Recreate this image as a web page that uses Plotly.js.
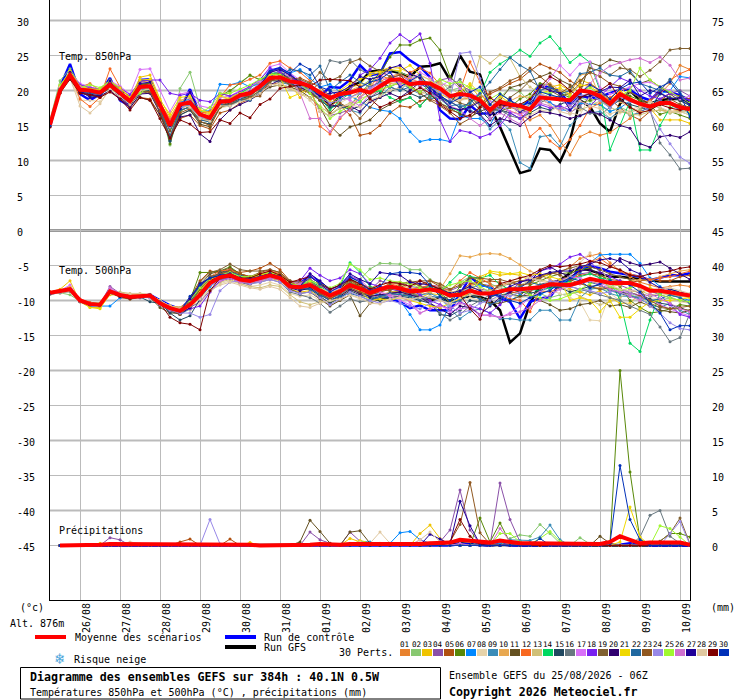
<!DOCTYPE html>
<html><head><meta charset="utf-8">
<script src="https://cdn.plot.ly/plotly-3.0.1.min.js"></script>
<style>html,body{margin:0;padding:0;background:#fff}</style></head>
<body><div id="chart" style="width:740px;height:700px"></div>
<script>
// All temperature / precipitation values are in tenths (of degC / mm).
const dayLabels=["26/08","27/08","28/08","29/08","30/08","31/08","01/09","02/09","03/09","04/09","05/09","06/09","07/09","08/09","09/09","10/09"];
const memberColors=["#e8822e","#88c870","#f0c400","#8a50a8","#b05010","#588808","#0088ff","#e6d3aa","#3a8cb8","#e8a850","#645020","#f86820","#d0c078","#00d860","#204860","#687880","#d870f8","#7820f0","#806030","#300070","#f0d800","#2068a0","#905820","#9888e8","#a0f830","#d070d0","#200098","#e0c8a0","#800000","#0030b8"];

const t850_mean=[151,200,222,201,200,197,208,197,185,205,206,179,150,180,183,166,161,184,185,193,196,206,218,219,213,211,206,197,189,195,197,201,197,206,215,216,209,211,210,203,192,195,193,186,172,184,180,178,173,190,189,188,186,200,198,192,181,195,187,181,177,182,182,176,173];
const t850_gfs=[151,200,221,203,200,196,212,197,186,208,209,178,145,178,182,165,160,184,186,193,197,207,222,226,214,210,208,194,178,192,205,212,227,229,228,225,219,234,235,239,215,250,227,223,177,148,115,82,86,117,115,98,129,186,177,153,141,181,200,186,181,186,188,188,184];
const t850_ctrl=[148,205,238,195,186,195,218,186,178,215,216,180,148,172,202,165,160,182,186,192,198,208,228,232,222,210,205,192,205,204,215,236,222,224,253,255,243,234,219,172,160,159,179,167,167,180,179,177,186,208,204,199,179,193,189,191,196,201,201,191,186,200,198,193,186];
const t850_01=[152,203,226,205,210,200,212,203,190,212,214,185,152,178,180,163,158,182,186,196,205,212,222,224,214,209,200,188,178,186,190,198,205,212,220,224,216,212,205,200,190,186,190,180,168,175,170,166,158,165,150,128,108,134,141,136,140,150,160,172,185,195,210,236,230];
const t850_02=[158,214,231,208,203,199,205,192,180,199,201,176,122,203,226,176,168,192,197,212,221,216,222,228,220,214,205,195,182,190,198,205,215,222,230,226,220,218,210,214,200,204,196,190,175,190,204,198,184,188,196,200,192,190,185,178,170,176,170,172,180,175,168,170,165];
const t850_03=[153,205,228,204,203,200,210,200,187,219,222,188,162,185,186,170,165,196,192,195,200,208,215,213,209,190,203,194,179,196,205,208,225,228,233,232,225,218,208,195,188,196,206,190,175,188,176,174,168,200,205,208,200,215,210,200,186,205,190,182,175,158,158,158,153];
const t850_04=[150,198,220,199,196,194,204,193,181,201,203,175,148,177,180,163,160,180,182,190,192,204,226,232,222,212,200,170,164,168,172,178,190,200,218,222,214,208,204,215,218,208,200,182,160,155,178,168,172,186,182,176,168,178,190,196,186,188,176,170,176,188,196,200,192];
const t850_05=[149,197,218,197,193,190,200,190,176,190,188,165,135,160,165,150,145,168,172,182,188,200,208,212,215,218,212,205,192,178,165,136,139,150,168,178,176,185,188,182,172,168,186,190,195,202,210,216,228,238,232,226,214,205,210,200,188,175,165,158,170,185,196,192,188];
const t850_06=[150,200,225,203,198,202,215,200,192,208,210,182,124,170,178,155,152,192,200,210,222,215,222,224,216,205,198,188,165,175,178,196,210,225,248,265,265,272,275,258,220,205,190,195,180,170,176,188,195,210,208,196,190,182,186,188,175,196,192,186,178,166,170,165,160];
const t850_07=[152,202,224,200,192,192,206,198,184,204,207,180,155,183,188,170,171,209,208,212,205,210,220,228,225,230,218,205,209,198,192,185,176,172,170,160,141,127,130,130,127,165,160,160,150,178,186,170,180,192,183,172,172,182,180,180,170,175,185,180,175,195,200,220,218];
const t850_08=[150,208,218,186,186,184,200,190,182,200,197,172,152,178,172,156,150,175,178,186,190,198,214,214,208,204,200,172,174,182,190,190,200,208,212,208,214,196,196,190,182,186,188,180,178,187,184,160,165,172,170,178,168,165,192,176,160,168,172,178,182,184,176,170,165];
const t850_09=[151,201,222,198,198,198,207,195,186,203,205,172,128,175,180,160,155,180,180,188,190,200,215,212,208,205,198,186,176,178,172,168,185,190,205,212,202,195,188,190,178,180,172,165,145,158,144,97,89,134,136,120,150,164,168,170,160,172,165,168,178,186,180,172,168];
const t850_10=[152,204,226,204,205,200,209,198,183,204,204,182,160,186,190,172,166,186,190,196,200,208,222,226,212,212,208,200,190,196,200,206,212,214,210,208,216,222,205,212,192,188,190,178,172,178,185,192,190,205,210,200,195,222,225,190,188,184,176,170,170,172,170,172,178];
const t850_11=[149,199,219,200,197,196,206,196,180,190,186,165,130,165,172,152,148,176,180,186,188,196,205,208,205,200,190,176,150,136,148,152,158,172,180,186,190,178,194,182,175,166,162,170,176,186,204,208,214,220,225,215,208,196,240,235,244,240,225,210,215,205,195,185,180];
const t850_12=[153,206,225,188,177,190,231,205,188,207,208,184,158,180,186,168,170,190,208,210,216,222,239,242,232,226,214,149,138,160,175,190,205,222,216,212,226,232,225,208,190,200,241,212,190,178,176,172,134,146,128,117,130,150,175,182,190,200,188,180,186,200,215,224,230];
const t850_13=[151,202,222,206,203,198,207,198,186,204,204,175,145,176,178,160,155,180,182,188,192,200,210,206,202,196,190,178,166,176,182,188,194,200,206,212,204,196,200,210,206,192,198,249,239,251,246,220,205,196,190,186,178,172,178,185,176,170,166,165,170,172,168,170,172];
const t850_14=[150,201,223,202,200,199,209,199,187,205,206,178,146,178,184,165,162,185,188,196,204,214,226,222,210,206,202,190,172,186,196,203,196,200,190,184,190,178,192,188,176,170,182,195,226,238,247,258,249,268,277,260,240,251,240,200,115,150,185,115,115,150,175,180,165];
const t850_15=[150,199,221,197,192,194,204,193,180,198,200,170,128,165,172,155,152,178,182,188,192,204,216,218,210,204,198,186,176,180,172,178,190,196,198,205,196,190,196,190,182,200,188,172,158,172,168,160,168,176,172,180,186,190,195,188,178,186,180,176,172,196,190,186,178];
const t850_16=[151,203,224,201,198,196,207,197,185,204,205,178,150,178,178,160,158,182,184,190,194,202,214,214,210,208,200,210,243,240,244,230,222,210,205,200,214,206,190,196,205,216,190,180,170,172,164,160,170,182,190,192,184,176,168,165,176,190,198,190,172,125,108,88,89];
const t850_17=[152,205,226,210,205,202,214,206,195,230,231,200,170,195,198,178,175,190,192,200,205,214,234,238,225,215,208,196,186,192,186,178,195,220,228,206,214,226,218,205,215,203,190,195,185,178,170,165,172,196,217,236,222,238,241,204,195,200,205,210,212,205,200,188,192];
const t850_18=[152,204,225,208,204,202,212,204,194,213,215,215,196,193,196,186,184,196,192,198,206,216,232,226,218,212,205,196,188,194,200,222,230,246,268,280,270,281,239,158,127,143,140,133,138,150,168,160,172,180,175,178,172,185,178,192,205,218,212,200,192,188,196,190,186];
const t850_19=[149,198,218,199,196,195,203,194,180,196,198,172,142,172,176,158,156,178,180,186,190,200,212,222,218,216,210,226,214,220,240,245,235,228,220,212,205,198,206,200,190,182,178,186,170,176,190,200,214,205,200,192,196,210,232,228,222,232,230,220,229,241,258,260,260];
const t850_20=[150,200,220,198,195,192,200,188,175,195,196,168,135,162,165,138,127,158,172,180,186,196,208,215,212,205,198,192,180,176,178,170,184,190,196,190,200,212,204,192,184,176,170,166,150,160,156,150,162,170,168,165,160,164,170,166,158,150,146,124,119,134,136,133,141];
const t850_21=[152,206,228,206,202,202,213,204,190,215,216,186,166,190,192,172,168,192,188,196,198,210,224,218,190,196,204,198,185,200,210,216,222,226,230,228,236,222,215,200,192,198,210,196,180,192,182,178,170,196,200,204,194,208,206,196,184,200,188,178,176,180,180,178,170];
const t850_22=[150,200,222,199,196,195,206,194,182,201,202,174,135,172,176,158,155,180,178,186,186,198,214,220,230,228,222,235,200,212,222,212,205,212,205,200,205,212,198,190,184,176,182,196,212,230,247,236,228,200,205,195,200,224,226,232,222,220,228,210,205,200,216,198,176];
const t850_23=[151,201,221,200,200,198,206,198,183,200,198,170,132,168,174,156,150,176,186,194,190,192,214,216,208,202,196,186,168,182,174,160,176,192,218,222,208,196,186,178,168,152,160,176,198,204,214,220,232,220,208,196,205,214,226,220,210,206,198,190,178,182,188,180,176];
const t850_24=[151,200,220,202,198,196,208,198,184,202,204,176,148,176,178,162,160,182,184,190,196,205,218,218,212,206,200,190,182,186,190,196,204,210,216,212,208,214,204,198,188,253,255,217,180,172,178,170,182,194,190,186,178,192,196,186,175,190,184,180,170,145,124,105,96];
const t850_25=[154,208,226,204,208,204,214,200,186,196,206,180,152,180,184,168,176,196,196,202,208,216,224,222,215,210,196,176,160,170,178,184,196,202,206,212,205,198,208,216,210,212,204,200,188,196,186,176,190,198,196,186,190,200,204,194,180,192,200,232,215,205,198,190,182];
const t850_26=[150,202,224,205,200,198,210,200,186,206,208,180,156,182,186,168,162,186,186,194,200,210,226,230,220,196,160,160,141,162,172,190,200,218,214,210,220,206,196,188,178,172,160,150,160,168,160,152,176,182,178,172,180,196,210,225,235,240,244,246,240,248,236,215,218];
const t850_27=[151,202,226,200,190,192,214,190,180,210,212,182,150,174,198,166,160,182,186,194,198,208,226,230,222,212,204,192,196,198,206,220,216,220,232,236,224,218,200,190,176,172,176,184,165,170,188,170,175,206,200,196,172,190,192,198,205,204,215,192,200,196,188,190,180];
const t850_28=[150,205,218,178,168,181,203,192,180,200,202,176,154,180,176,160,156,178,178,184,188,196,208,210,204,196,186,170,164,176,180,176,186,192,200,204,210,222,215,206,196,188,192,186,176,184,180,172,178,188,180,170,166,185,178,174,166,172,168,176,184,176,170,168,172];
const t850_29=[148,196,216,196,194,190,198,188,172,190,186,160,132,158,152,140,141,158,153,168,161,180,188,203,206,208,206,215,216,215,214,205,188,176,182,190,196,204,196,180,170,160,165,176,190,180,178,180,188,205,220,212,200,190,196,200,210,188,176,168,172,180,175,172,175];
const t850_30=[150,200,222,201,198,197,207,198,185,205,206,180,152,180,184,167,162,186,186,194,198,206,228,232,225,238,230,205,200,190,196,204,212,216,226,205,214,222,204,194,182,190,198,205,180,195,186,178,182,198,194,190,182,196,208,200,188,202,210,212,196,205,212,195,162];

const t500_mean=[-89,-87,-84,-100,-105,-106,-87,-92,-95,-94,-93,-104,-111,-115,-106,-92,-75,-67,-64,-70,-72,-68,-64,-68,-80,-81,-78,-86,-93,-87,-78,-83,-89,-84,-80,-83,-87,-86,-84,-87,-93,-92,-86,-90,-90,-87,-84,-84,-83,-81,-77,-78,-78,-74,-69,-72,-75,-75,-75,-79,-86,-86,-88,-90,-93];
const t500_gfs=[-89,-88,-85,-100,-105,-106,-88,-92,-94,-94,-92,-103,-110,-114,-100,-80,-70,-66,-63,-70,-70,-68,-62,-66,-78,-80,-74,-84,-92,-86,-70,-78,-92,-100,-90,-86,-90,-94,-100,-96,-102,-96,-94,-95,-100,-114,-160,-147,-104,-78,-76,-71,-61,-54,-57,-61,-66,-66,-68,-70,-72,-73,-73,-73,-73];
const t500_ctrl=[-90,-88,-86,-100,-107,-106,-88,-93,-95,-94,-92,-100,-107,-112,-100,-80,-72,-66,-66,-72,-74,-68,-64,-70,-76,-76,-64,-74,-86,-80,-66,-72,-95,-92,-97,-102,-111,-107,-114,-114,-114,-92,-66,-78,-80,-97,-102,-126,-102,-97,-95,-76,-71,-54,-51,-54,-59,-61,-64,-66,-71,-68,-64,-64,-61];
const t500_01=[-89,-86,-83,-99,-104,-105,-85,-91,-94,-93,-91,-102,-110,-112,-104,-84,-68,-60,-62,-68,-70,-66,-60,-66,-78,-84,-82,-90,-96,-92,-84,-88,-92,-88,-82,-84,-90,-92,-88,-86,-92,-90,-78,-76,-80,-78,-74,-72,-70,-66,-62,-60,-52,-40,-36,-33,-46,-58,-66,-74,-78,-82,-80,-78,-80];
const t500_02=[-91,-89,-92,-101,-103,-104,-90,-90,-92,-94,-95,-105,-113,-116,-108,-94,-76,-70,-66,-72,-74,-72,-68,-70,-82,-84,-82,-88,-95,-88,-74,-70,-55,-47,-47,-48,-56,-56,-70,-78,-84,-74,-66,-70,-76,-82,-84,-86,-88,-90,-96,-92,-90,-88,-82,-84,-86,-88,-92,-96,-104,-100,-96,-92,-96];
const t500_03=[-88,-84,-72,-102,-110,-110,-92,-92,-94,-92,-92,-104,-112,-118,-112,-96,-78,-70,-66,-72,-76,-72,-68,-72,-84,-88,-86,-96,-104,-94,-84,-90,-92,-94,-88,-86,-92,-96,-90,-92,-102,-98,-84,-66,-60,-64,-62,-64,-72,-78,-80,-76,-84,-88,-92,-86,-96,-104,-104,-90,-82,-88,-92,-94,-92];
const t500_04=[-90,-88,-86,-99,-104,-105,-80,-90,-94,-93,-92,-104,-110,-112,-110,-102,-86,-72,-68,-74,-78,-70,-68,-70,-84,-82,-76,-88,-98,-90,-76,-82,-85,-72,-76,-74,-80,-82,-78,-80,-86,-80,-72,-84,-86,-82,-90,-96,-86,-82,-74,-70,-66,-62,-60,-68,-74,-78,-84,-90,-94,-92,-96,-100,-104];
const t500_05=[-89,-86,-84,-101,-106,-107,-88,-96,-98,-96,-95,-106,-112,-116,-96,-72,-58,-60,-56,-60,-58,-54,-47,-56,-72,-80,-78,-90,-98,-88,-76,-80,-86,-88,-74,-74,-76,-78,-72,-80,-92,-88,-76,-74,-72,-74,-88,-90,-86,-82,-78,-72,-70,-64,-62,-64,-70,-72,-74,-72,-70,-72,-72,-66,-64];
const t500_06=[-90,-87,-85,-100,-106,-106,-86,-92,-95,-94,-94,-106,-114,-118,-100,-60,-60,-58,-52,-62,-66,-64,-60,-64,-74,-78,-74,-84,-90,-84,-74,-80,-88,-86,-80,-82,-84,-90,-76,-90,-100,-80,-66,-74,-84,-92,-90,-94,-78,-72,-66,-62,-60,-56,-54,-64,-72,-80,-100,-110,-118,-116,-112,-106,-108];
const t500_07=[-89,-87,-84,-102,-108,-108,-108,-96,-96,-95,-93,-103,-110,-112,-108,-96,-80,-70,-66,-70,-72,-70,-66,-70,-76,-78,-74,-84,-92,-86,-76,-84,-88,-92,-96,-100,-120,-142,-142,-135,-106,-90,-82,-78,-82,-94,-100,-92,-96,-92,-84,-78,-68,-60,-46,-35,-34,-34,-34,-47,-68,-80,-92,-96,-100];
const t500_08=[-91,-90,-88,-100,-104,-105,-90,-91,-93,-92,-93,-102,-108,-112,-114,-104,-88,-76,-72,-76,-80,-78,-74,-78,-90,-94,-92,-100,-106,-100,-92,-98,-100,-96,-92,-92,-96,-98,-96,-100,-106,-102,-96,-100,-98,-96,-92,-96,-94,-88,-86,-90,-96,-102,-128,-129,-90,-100,-106,-104,-96,-98,-100,-102,-104];
const t500_09=[-89,-88,-85,-100,-105,-106,-88,-92,-94,-95,-95,-106,-116,-120,-112,-88,-70,-64,-60,-66,-70,-68,-62,-66,-80,-84,-80,-90,-100,-92,-82,-88,-94,-98,-92,-90,-94,-92,-90,-96,-112,-126,-116,-112,-118,-126,-126,-128,-128,-114,-114,-128,-128,-96,-84,-82,-90,-94,-94,-98,-106,-110,-104,-114,-120];
const t500_10=[-88,-86,-80,-99,-104,-106,-87,-92,-93,-92,-92,-100,-108,-110,-102,-88,-72,-64,-62,-68,-68,-64,-58,-62,-74,-76,-72,-82,-90,-84,-72,-76,-82,-78,-74,-78,-82,-84,-88,-84,-62,-36,-38,-34,-33,-34,-40,-49,-58,-64,-70,-76,-74,-76,-80,-82,-80,-78,-72,-70,-72,-66,-62,-58,-56];
const t500_11=[-90,-88,-86,-102,-106,-108,-90,-94,-98,-95,-96,-110,-118,-118,-102,-78,-62,-58,-54,-62,-68,-68,-64,-70,-84,-90,-88,-98,-108,-100,-92,-122,-104,-98,-96,-94,-90,-94,-98,-98,-94,-88,-92,-96,-104,-104,-100,-94,-92,-100,-106,-114,-112,-106,-104,-100,-108,-106,-110,-102,-108,-114,-116,-118,-114];
const t500_12=[-88,-85,-82,-98,-103,-105,-88,-90,-92,-92,-92,-102,-108,-110,-100,-82,-66,-58,-56,-62,-66,-62,-58,-62,-74,-78,-74,-80,-86,-80,-72,-78,-84,-82,-76,-80,-84,-82,-78,-82,-86,-72,-60,-68,-76,-92,-98,-100,-116,-86,-88,-82,-76,-58,-44,-40,-50,-58,-62,-66,-70,-68,-66,-62,-58];
const t500_13=[-90,-89,-86,-100,-104,-105,-88,-88,-90,-90,-92,-100,-108,-110,-106,-96,-84,-74,-70,-76,-80,-82,-78,-80,-92,-102,-106,-102,-100,-96,-88,-94,-96,-92,-88,-88,-92,-90,-84,-82,-88,-86,-82,-84,-92,-86,-82,-78,-72,-70,-74,-80,-86,-94,-100,-106,-102,-96,-88,-86,-92,-90,-92,-94,-96];
const t500_14=[-89,-87,-85,-100,-105,-105,-87,-92,-95,-94,-93,-104,-112,-114,-104,-84,-72,-66,-62,-66,-70,-66,-60,-64,-78,-78,-72,-80,-88,-80,-46,-60,-80,-84,-78,-84,-86,-84,-80,-88,-74,-60,-66,-68,-64,-78,-84,-88,-84,-86,-82,-78,-72,-66,-62,-68,-70,-100,-161,-173,-128,-90,-84,-88,-94];
const t500_15=[-90,-88,-86,-101,-106,-106,-88,-92,-96,-95,-102,-104,-118,-128,-122,-98,-70,-60,-58,-64,-68,-64,-62,-66,-78,-84,-84,-94,-104,-96,-86,-92,-96,-100,-96,-94,-96,-100,-104,-120,-122,-114,-100,-102,-96,-90,-84,-88,-90,-86,-80,-82,-88,-84,-80,-78,-84,-88,-90,-92,-98,-104,-106,-110,-116];
const t500_16=[-91,-89,-87,-100,-104,-105,-90,-92,-94,-93,-94,-104,-110,-114,-108,-94,-78,-70,-68,-74,-76,-74,-70,-74,-88,-92,-96,-104,-117,-108,-98,-102,-100,-96,-92,-88,-90,-94,-102,-118,-128,-120,-108,-100,-92,-88,-84,-86,-82,-78,-74,-76,-80,-84,-88,-92,-96,-100,-108,-114,-120,-138,-159,-153,-118];
const t500_17=[-88,-86,-78,-99,-104,-106,-84,-90,-94,-93,-92,-102,-110,-112,-102,-90,-76,-68,-66,-72,-72,-70,-66,-70,-80,-72,-62,-78,-88,-82,-64,-74,-84,-88,-94,-100,-106,-118,-112,-106,-116,-112,-110,-122,-120,-124,-118,-108,-96,-88,-78,-72,-66,-68,-74,-76,-80,-86,-90,-92,-100,-106,-112,-118,-122];
const t500_18=[-89,-87,-85,-100,-105,-106,-86,-92,-95,-94,-93,-104,-110,-116,-112,-108,-88,-72,-68,-72,-74,-70,-66,-66,-74,-72,-54,-64,-72,-68,-56,-62,-76,-80,-84,-86,-84,-92,-100,-106,-112,-102,-108,-112,-118,-106,-88,-74,-68,-58,-54,-48,-38,-34,-44,-60,-66,-72,-78,-80,-86,-92,-106,-120,-124];
const t500_19=[-90,-88,-85,-101,-106,-107,-90,-93,-96,-95,-94,-106,-114,-118,-100,-74,-60,-56,-48,-56,-58,-58,-56,-60,-72,-74,-70,-78,-86,-80,-72,-76,-82,-84,-86,-78,-72,-80,-84,-82,-90,-96,-92,-90,-86,-80,-76,-72,-72,-68,-62,-58,-54,-50,-52,-56,-62,-66,-70,-84,-104,-110,-112,-112,-114];
const t500_20=[-89,-87,-86,-100,-106,-106,-88,-94,-96,-95,-94,-106,-114,-120,-110,-90,-72,-64,-62,-68,-72,-68,-64,-68,-82,-86,-82,-92,-100,-94,-84,-90,-94,-92,-90,-88,-92,-96,-104,-112,-120,-108,-110,-120,-108,-96,-88,-82,-72,-58,-52,-60,-66,-58,-56,-62,-52,-40,-46,-50,-48,-45,-54,-62,-70];
const t500_21=[-88,-85,-82,-100,-110,-112,-90,-92,-94,-92,-92,-102,-108,-112,-104,-86,-70,-64,-60,-66,-68,-64,-60,-64,-76,-80,-76,-86,-92,-88,-80,-86,-100,-98,-100,-96,-100,-104,-108,-110,-104,-98,-88,-72,-58,-60,-62,-60,-64,-62,-66,-70,-100,-96,-100,-116,-100,-124,-124,-112,-102,-100,-100,-98,-96];
const t500_22=[-90,-88,-86,-100,-105,-106,-88,-92,-94,-94,-94,-106,-112,-116,-104,-78,-66,-62,-60,-64,-68,-66,-62,-66,-76,-82,-84,-92,-100,-94,-90,-94,-100,-94,-90,-92,-94,-98,-94,-96,-104,-100,-92,-98,-106,-100,-84,-80,-74,-78,-74,-80,-80,-72,-74,-78,-86,-90,-94,-96,-100,-98,-92,-96,-104];
const t500_23=[-89,-87,-85,-100,-104,-106,-88,-93,-96,-95,-94,-106,-114,-120,-106,-84,-66,-62,-58,-62,-66,-60,-56,-60,-74,-80,-78,-90,-98,-90,-82,-88,-92,-88,-84,-82,-74,-72,-72,-76,-84,-78,-68,-68,-70,-70,-74,-78,-76,-66,-60,-64,-70,-76,-80,-84,-82,-84,-88,-94,-100,-108,-112,-110,-108];
const t500_24=[-90,-88,-86,-101,-105,-106,-89,-93,-96,-96,-96,-106,-114,-118,-118,-124,-120,-86,-74,-72,-76,-74,-70,-74,-86,-90,-88,-96,-106,-98,-88,-94,-100,-104,-100,-104,-108,-112,-104,-98,-108,-118,-114,-104,-100,-92,-94,-88,-84,-80,-72,-74,-80,-84,-86,-90,-88,-84,-88,-96,-108,-118,-132,-140,-142];
const t500_25=[-89,-88,-86,-100,-104,-104,-87,-91,-94,-92,-92,-100,-110,-112,-100,-82,-68,-64,-60,-66,-66,-62,-60,-64,-76,-78,-72,-76,-82,-76,-48,-56,-70,-68,-72,-74,-76,-82,-86,-84,-78,-74,-72,-80,-88,-88,-82,-84,-92,-96,-100,-98,-92,-84,-76,-72,-80,-86,-82,-78,-84,-92,-96,-100,-102];
const t500_26=[-89,-87,-84,-99,-104,-106,-82,-90,-94,-94,-93,-102,-110,-112,-106,-94,-78,-72,-68,-74,-74,-72,-68,-70,-82,-76,-66,-76,-86,-80,-66,-70,-84,-88,-92,-94,-102,-118,-112,-108,-112,-104,-108,-120,-122,-124,-120,-116,-110,-100,-92,-84,-80,-76,-72,-78,-84,-88,-94,-100,-90,-98,-104,-112,-116];
const t500_27=[-90,-88,-84,-100,-106,-106,-87,-92,-94,-94,-92,-102,-110,-114,-98,-76,-68,-64,-62,-68,-70,-66,-62,-66,-78,-80,-62,-72,-84,-78,-62,-70,-76,-60,-62,-64,-74,-76,-78,-84,-90,-86,-80,-86,-94,-88,-80,-74,-70,-64,-60,-58,-58,-52,-48,-42,-40,-44,-56,-62,-74,-82,-84,-88,-92];
const t500_28=[-90,-89,-86,-100,-104,-105,-90,-90,-91,-90,-92,-100,-108,-112,-108,-98,-86,-78,-74,-78,-82,-84,-80,-84,-96,-108,-110,-104,-100,-98,-92,-96,-104,-105,-98,-96,-98,-96,-94,-100,-104,-96,-92,-90,-86,-82,-74,-66,-68,-72,-76,-74,-66,-46,-32,-50,-78,-84,-86,-84,-88,-84,-82,-86,-90];
const t500_29=[-88,-86,-84,-100,-105,-106,-88,-94,-97,-95,-93,-104,-124,-132,-134,-142,-86,-68,-66,-68,-68,-62,-58,-64,-74,-70,-66,-76,-84,-78,-70,-76,-84,-78,-74,-76,-80,-72,-78,-84,-92,-92,-112,-127,-90,-76,-72,-68,-64,-56,-50,-52,-50,-48,-44,-46,-52,-56,-64,-66,-62,-60,-58,-54,-52];
const t500_30=[-90,-88,-85,-100,-106,-106,-88,-92,-95,-94,-92,-102,-110,-116,-94,-78,-68,-64,-62,-68,-70,-66,-62,-66,-78,-80,-66,-76,-88,-80,-66,-74,-86,-80,-62,-60,-60,-62,-78,-94,-100,-90,-84,-88,-92,-94,-100,-104,-96,-90,-86,-74,-68,-72,-82,-76,-72,-74,-78,-88,-104,-118,-142,-136,-136];

const p_mean=[null,0,0,0,1,1,2,2,1,1,1,1,1,1,2,1,1,1,1,1,1,0,0,1,1,0,1,2,1,1,2,2,1,2,2,2,2,2,3,3,4,8,7,5,4,7,5,3,3,3,2,2,2,2,2,2,5,13,8,3,4,4,4,4,1];
const p_ctrl=[null,0,0,0,0,0,0,0,0,0,0,0,0,0,0,0,0,0,0,0,0,0,0,0,0,0,0,0,0,0,0,0,0,0,0,0,0,0,0,0,0,2,1,0,0,2,0,0,0,0,0,0,0,0,0,0,0,1,3,1,0,0,0,1,0];
const p_gfs=[null,0,0,1,1,1,1,1,0,0,0,0,0,0,0,0,0,0,0,0,0,0,0,0,0,0,0,0,0,0,0,0,0,0,0,0,0,0,0,0,1,3,2,1,0,1,0,0,0,0,0,0,0,0,0,0,0,0,1,0,0,0,0,0,0];
const p_04=[null,0,0,0,0,0,11,8,0,0,0,0,0,0,0,0,0,0,0,0,0,0,0,0,0,0,19,8,3,0,19,6,0,0,0,0,0,0,0,5,22,79,22,2,0,89,37,5,0,0,0,0,0,0,0,0,0,0,0,0,0,0,0,0,0];
const p_05=[null,0,0,0,0,0,0,0,0,0,0,0,0,5,9,0,0,0,9,0,0,0,0,0,0,0,0,0,0,0,0,0,0,0,0,0,0,0,0,0,0,0,0,0,0,0,0,0,0,0,0,0,0,0,0,0,0,0,0,0,0,0,0,0,0];
const p_06=[null,0,0,0,0,0,0,0,0,0,0,0,0,0,0,0,0,0,0,0,0,0,0,0,0,0,0,0,0,0,0,0,0,0,0,0,0,0,0,0,0,0,0,39,5,32,4,0,0,0,0,0,0,0,0,0,4,250,105,8,3,6,17,17,12];
const p_11=[null,0,0,0,0,0,0,0,0,0,0,0,0,0,0,0,0,0,0,0,0,0,0,0,0,5,36,20,3,0,19,21,3,0,0,0,0,0,0,0,0,0,0,0,0,0,0,0,0,0,0,0,0,0,0,13,3,0,0,0,0,0,0,0,0];
const p_23=[null,0,0,0,0,0,0,0,0,0,0,0,0,0,0,0,0,0,0,0,0,0,0,0,0,0,0,0,0,0,0,0,0,0,0,0,0,0,0,0,5,30,90,18,2,0,0,0,0,0,0,0,0,0,0,0,0,0,0,0,0,0,0,0,0];
const p_27=[null,0,0,0,0,0,0,0,0,0,0,0,0,0,0,0,0,0,0,0,0,0,0,0,0,0,0,0,0,0,0,0,0,0,0,0,0,0,16,9,2,63,28,2,0,0,0,0,0,0,0,0,0,0,0,0,0,0,0,0,0,0,0,0,0];
const p_29=[null,0,0,0,0,0,0,0,0,0,0,0,0,0,0,0,0,0,0,0,0,0,0,0,0,0,0,0,0,0,0,0,0,0,0,0,0,0,0,0,5,37,13,1,0,0,0,0,0,0,0,0,0,0,0,0,0,0,0,0,0,0,0,0,0];
const p_30=[null,0,0,0,0,0,0,0,0,0,0,0,0,0,0,0,0,0,0,0,0,0,0,0,0,0,0,0,0,0,0,0,0,0,0,0,0,0,0,0,0,0,0,0,0,0,0,0,0,10,0,0,0,0,0,0,3,114,37,8,0,0,0,0,0];
const p_21=[null,0,0,0,0,0,0,0,0,0,0,0,0,0,0,0,0,0,0,0,0,0,0,0,0,0,0,0,0,0,0,7,3,0,0,0,0,0,0,0,0,0,0,0,0,0,0,0,0,0,0,0,0,0,0,0,0,5,55,12,0,0,0,0,0];
const p_03=[null,0,0,0,0,3,0,0,0,0,0,0,0,0,0,0,0,0,0,0,4,0,0,0,0,0,0,0,0,0,10,5,0,3,0,0,0,17,29,10,0,0,0,0,0,0,0,0,0,0,0,0,0,0,0,0,0,0,0,0,0,0,0,0,0];
const p_16=[null,0,0,0,0,0,0,0,0,0,0,0,0,0,0,0,0,0,0,0,0,0,0,0,0,0,0,0,0,0,0,0,0,0,0,0,0,0,0,0,0,0,0,0,0,0,0,0,0,0,0,0,0,0,0,0,0,0,0,12,43,50,13,3,0];
const p_24=[null,0,0,0,0,0,0,0,0,0,0,0,0,0,0,0,37,2,0,0,0,0,0,0,0,0,0,0,0,0,0,0,0,0,0,0,0,0,0,0,0,0,0,0,0,0,0,0,0,0,0,0,0,0,0,0,0,0,0,0,0,0,17,34,1];
const p_19=[null,0,0,0,0,0,0,0,0,0,0,0,0,0,0,0,0,0,0,0,0,0,0,0,0,0,0,0,0,0,0,0,0,0,0,0,0,0,0,0,0,0,0,0,0,0,0,0,0,0,0,0,0,0,0,0,0,0,0,0,0,6,17,39,2];
const p_25=[null,0,0,0,0,0,0,0,0,0,0,0,0,0,0,0,0,0,0,0,0,0,0,0,0,0,0,0,0,0,0,0,0,0,0,0,0,0,0,0,0,0,0,0,0,17,17,5,2,10,20,6,0,0,0,0,0,0,0,0,0,28,24,12,0];
const p_02=[null,0,0,0,0,0,0,0,0,0,0,0,0,0,0,0,0,0,0,0,0,0,0,0,0,0,0,0,0,0,0,0,0,0,0,0,0,0,0,0,0,0,0,0,0,0,10,15,13,30,17,3,0,11,2,0,0,0,0,0,0,0,0,0,0];
const p_09=[null,0,0,0,0,0,0,0,0,0,0,0,0,0,0,0,0,0,0,0,0,0,0,0,0,0,0,0,0,0,0,0,0,0,0,0,0,0,0,0,0,0,0,6,4,3,8,7,7,12,29,8,0,0,0,0,0,0,0,0,0,0,0,0,0];
const p_28=[null,0,0,0,0,0,0,0,5,2,0,0,0,0,0,0,0,0,0,0,0,0,0,0,0,0,0,0,0,0,3,5,3,19,3,0,0,8,19,5,0,0,0,0,0,0,0,0,0,0,0,0,0,0,0,0,0,0,0,0,0,0,0,0,0];
const p_07=[null,0,0,0,0,0,0,0,0,0,0,0,0,0,0,0,0,0,0,0,0,0,0,0,0,0,0,0,0,0,0,6,5,0,3,18,20,8,3,0,0,0,0,0,0,0,0,0,0,0,0,0,0,0,0,0,0,0,0,0,0,0,0,0,0];
const p_26=[null,0,0,0,0,0,0,0,0,0,0,0,0,0,0,0,0,0,0,0,0,0,0,0,0,0,0,0,0,0,0,0,0,0,0,0,0,8,0,0,0,3,0,0,0,24,6,0,0,0,0,0,0,0,0,0,0,0,0,0,0,0,0,0,0];

const t850List=[t850_01,t850_02,t850_03,t850_04,t850_05,t850_06,t850_07,t850_08,t850_09,t850_10,t850_11,t850_12,t850_13,t850_14,t850_15,t850_16,t850_17,t850_18,t850_19,t850_20,t850_21,t850_22,t850_23,t850_24,t850_25,t850_26,t850_27,t850_28,t850_29,t850_30];
const t500List=[t500_01,t500_02,t500_03,t500_04,t500_05,t500_06,t500_07,t500_08,t500_09,t500_10,t500_11,t500_12,t500_13,t500_14,t500_15,t500_16,t500_17,t500_18,t500_19,t500_20,t500_21,t500_22,t500_23,t500_24,t500_25,t500_26,t500_27,t500_28,t500_29,t500_30];
const pList={2:p_02,3:p_03,4:p_04,5:p_05,6:p_06,7:p_07,9:p_09,11:p_11,16:p_16,19:p_19,21:p_21,23:p_23,24:p_24,25:p_25,26:p_26,27:p_27,28:p_28,29:p_29,30:p_30};

const mono='"DejaVu Sans Mono", monospace';
const hours=t850_mean.map((_,i)=>i*6);
const tenth=a=>a.map(v=>v===null?null:v/10);
const traces=[];
function member(arr,color,ax){traces.push({x:hours,y:tenth(arr),yaxis:ax,mode:'lines+markers',line:{color:color,width:1},marker:{color:color,size:3,symbol:'circle'},hoverinfo:'skip',showlegend:false});}
function bold(arr,color,w,ax){traces.push({x:hours,y:tenth(arr),yaxis:ax,mode:'lines',line:{color:color,width:w},hoverinfo:'skip',showlegend:false});}
bold(t850_gfs,'#000000',2.5,'y');bold(t500_gfs,'#000000',2.5,'y');bold(p_gfs,'#000000',2.5,'y2');
bold(t850_ctrl,'#0000ff',2.5,'y');bold(t500_ctrl,'#0000ff',2.5,'y');bold(p_ctrl,'#0000ff',2.5,'y2');
t850List.forEach((a,i)=>member(a,memberColors[i],'y'));
t500List.forEach((a,i)=>member(a,memberColors[i],'y'));
Object.keys(pList).forEach(k=>member(pList[k],memberColors[k-1],'y2'));
bold(t850_mean,'#ff0000',4,'y');bold(t500_mean,'#ff0000',4,'y');bold(p_mean,'#ff0000',4,'y2');

const px=x=>(x-50)/640, py=y=>(600-y)/600;
const leftVals=[30,25,20,15,10,5,0,-5,-10,-15,-20,-25,-30,-35,-40,-45];
const rightVals=[75,70,65,60,55,50,45,40,35,30,25,20,15,10,5,0];
const annotations=[];
function txt(s,x,y,o={}){annotations.push({text:s,xref:'paper',yref:'paper',x:px(o.anchor?x:x-1),y:py(y),xanchor:o.anchor||'left',yanchor:'middle',showarrow:false,align:'left',borderpad:0,font:{family:mono,size:o.size||10,color:o.color||'#000000'}});}
const shapes=[];
[30,20,10,-10,-20,-30,-40].forEach(v=>shapes.push({type:'line',xref:'paper',yref:'y',x0:0,x1:1,y0:v,y1:v,line:{color:'#bbbbbb',width:2},layer:'below'}));
shapes.push({type:'line',xref:'paper',yref:'y',x0:0,x1:1,y0:0,y1:0,line:{color:'#999999',width:3},layer:'below'});
function bar(x0,x1,y0,y1,c){shapes.push({type:'rect',xref:'paper',yref:'paper',x0:px(x0),x1:px(x1),y0:py(y0),y1:py(y1),fillcolor:c,line:{width:0}});}
bar(35,66,635,639,'#ff0000');bar(225,256,635,639,'#0000ff');bar(225,256,645,649,'#000000');
memberColors.forEach((c,i)=>{bar(400+11*i,410+11*i,649,656,c);txt(String(i+1).padStart(2,'0'),405+11*i,644,{anchor:'center',size:7.6});});
shapes.push({type:'rect',xref:'paper',yref:'paper',x0:px(20.5),x1:px(440.5),y0:py(667.5),y1:py(699),fillcolor:'#fff',line:{color:'#000',width:1}});

txt('Temp. 850hPa',59,57);txt('Temp. 500hPa',59,270);txt('Précipitations',59,530);
txt('(°c)',20,607);txt('Alt. 876m',10,623);txt('(mm)',711,607);
txt('Moyenne des scénarios',75,637);txt('Run de contrôle',264,637);txt('Run GFS',264,647);
txt('❄',55,658,{size:16,color:'#4fa8dc'});txt('Risque neige',74,659);txt('30 Perts.',339,652);
txt('<b>Diagramme des ensembles GEFS sur 384h : 40.1N 0.5W</b>',30,677,{size:11.6});
txt('Températures 850hPa et 500hPa (°C) , précipitations (mm)',30,692);
txt('Ensemble GEFS du 25/08/2026 - 06Z',449,675);
txt('<b>Copyright 2026 Meteociel.fr</b>',449,692,{size:11.6});

const layout={width:740,height:700,margin:{l:50,r:50,t:0,b:100,pad:0},paper_bgcolor:'#fff',plot_bgcolor:'#fff',showlegend:false,
 xaxis:{range:[0,384],tickmode:'array',tickvals:dayLabels.map((_,i)=>18+24*i),ticktext:dayLabels,tickangle:-90,ticklen:0,ticklabelstandoff:-2,ticklabelshift:7,gridcolor:'#bbbbbb',gridwidth:1,showgrid:true,zeroline:false,showline:true,linecolor:'#000',linewidth:1,tickfont:{family:mono,size:10,color:'#000'}},
 yaxis:{range:[-52.8,32.93],tickmode:'array',tickvals:leftVals,ticktext:leftVals.map(v=>String(v).padEnd(3,'\u00a0')),ticklen:0,ticklabelstandoff:12,ticklabelshift:2,gridcolor:'#bbbbbb',gridwidth:1,zeroline:false,showline:true,linecolor:'#000',linewidth:1,tickfont:{family:mono,size:10,color:'#000'}},
 yaxis2:{range:[-7.8,77.93],overlaying:'y',side:'right',tickmode:'array',tickvals:rightVals,ticktext:rightVals.map(v=>String(v).padEnd(2,'\u00a0')),ticklen:0,ticklabelstandoff:19,ticklabelshift:2,showgrid:false,zeroline:false,showline:true,linecolor:'#000',linewidth:1,tickfont:{family:mono,size:10,color:'#000'}},
 annotations:annotations,shapes:shapes};
Plotly.newPlot('chart',traces,layout,{displayModeBar:false,staticPlot:true});
</script></body></html>
